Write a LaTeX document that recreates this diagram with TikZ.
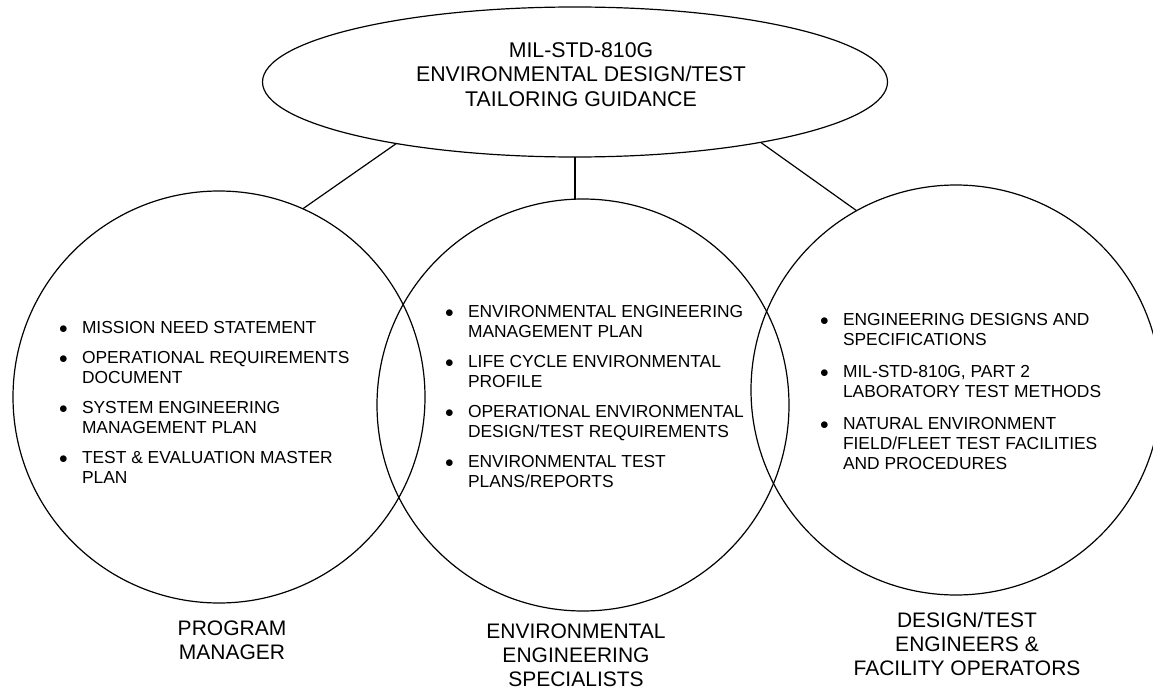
\documentclass[tikz,border=0pt]{standalone}
\usepackage{fontspec}
\setmainfont{Liberation Sans}
\usetikzlibrary{shapes.geometric}

\begin{document}
\begin{tikzpicture}[x = 1pt, y = -1pt, line width = 1.2pt]
	\tikzstyle{every node} = [inner sep = 0, outer sep = 0]
	\tikzstyle{group} = [circle, draw = black, minimum size = 412pt]
	\tikzstyle{items} = [anchor = base west, font = \fontsize{17.4}{20}\selectfont]
	\tikzstyle{role} = [align = center, font = \fontsize{21}{24}\selectfont]
\useasboundingbox (0, 0) rectangle (1153, 690);
\node[ellipse, draw = black, minimum width = 625pt, minimum height = 150pt] (0) at (575, 82) {};
\node[align = center, font = \fontsize{21.3}{24.5}\selectfont] (4) at (581, 74.5) {MIL-STD-810G\\ENVIRONMENTAL DESIGN/TEST\\TAILORING GUIDANCE};
\node[group] (1) at (219, 397) {};
\node[group] (2) at (583, 405) {};
\node[group, minimum size = 410pt] (3) at (956, 390) {};
	\path[draw] (0.199.3) -- (1.66.9);
	\path[draw] (0.south) -- (0.south |- 2.north);
	\path[draw] (0.342) -- (3.119.8);
% what each group brings
\node[items] (5) at (59, 333) {\begin{tabular}[t]{@{}p{23pt}@{}l@{}}
$\bullet$ & MISSION NEED STATEMENT\\[10pt]
$\bullet$ & OPERATIONAL REQUIREMENTS\\
 & DOCUMENT\\[10pt]
$\bullet$ & SYSTEM ENGINEERING\\
 & MANAGEMENT PLAN\\[10pt]
$\bullet$ & TEST \& EVALUATION MASTER\\
 & PLAN
\end{tabular}};
\node[items] (6) at (445, 317) {\begin{tabular}[t]{@{}p{23pt}@{}l@{}}
$\bullet$ & ENVIRONMENTAL ENGINEERING\\
 & MANAGEMENT PLAN\\[10pt]
$\bullet$ & LIFE CYCLE ENVIRONMENTAL\\
 & PROFILE\\[10pt]
$\bullet$ & OPERATIONAL ENVIRONMENTAL\\
 & DESIGN/TEST REQUIREMENTS\\[10pt]
$\bullet$ & ENVIRONMENTAL TEST\\
 & PLANS/REPORTS
\end{tabular}};
\node[items] (7) at (820, 325) {\begin{tabular}[t]{@{}p{23pt}@{}l@{}}
$\bullet$ & ENGINEERING DESIGNS AND\\
 & SPECIFICATIONS\\[12pt]
$\bullet$ & MIL-STD-810G, PART 2\\
 & LABORATORY TEST METHODS\\[12pt]
$\bullet$ & NATURAL ENVIRONMENT\\
 & FIELD/FLEET TEST FACILITIES\\
 & AND PROCEDURES
\end{tabular}};
% who uses it
\node[role] (8) at (232, 640) {PROGRAM\\MANAGER};
\node[role] (9) at (576, 655) {ENVIRONMENTAL\\ENGINEERING\\SPECIALISTS};
\node[role] (10) at (967, 644) {DESIGN/TEST\\ENGINEERS \&\\FACILITY OPERATORS};
	\end{tikzpicture}
\end{document}
